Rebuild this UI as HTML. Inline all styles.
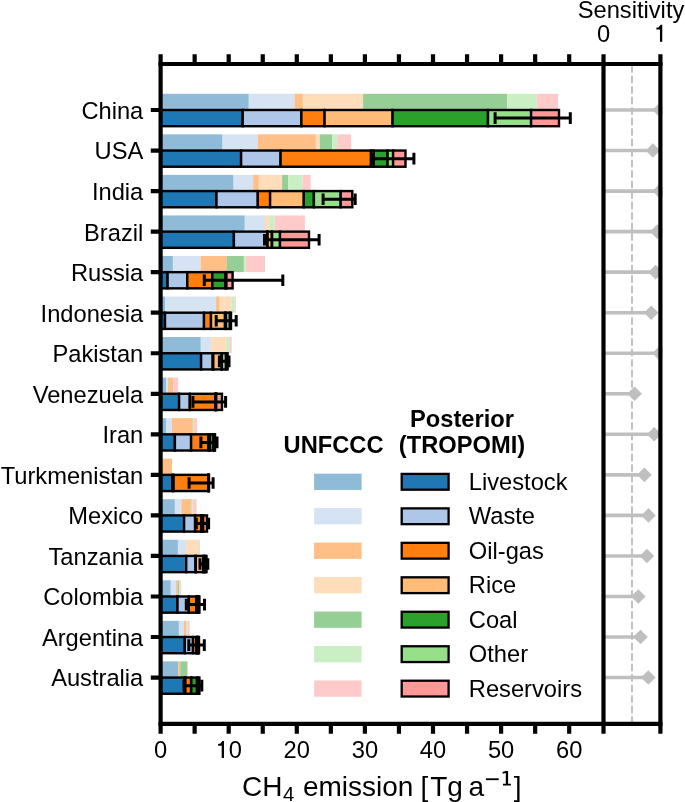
<!DOCTYPE html>
<html><head><meta charset="utf-8"><style>html,body{margin:0;padding:0;background:#fff;}svg{display:block;will-change:transform;}</style></head>
<body><svg width="685" height="802" viewBox="0 0 685 802">
<rect width="685" height="802" fill="#fff"/>
<rect x="160.60" y="93.80" width="88.20" height="16.20" fill="#8fbbd9"/>
<rect x="248.80" y="93.80" width="45.70" height="16.20" fill="#d6e3f3"/>
<rect x="294.50" y="93.80" width="8.40" height="16.20" fill="#ffbf86"/>
<rect x="302.90" y="93.80" width="60.20" height="16.20" fill="#ffddbb"/>
<rect x="363.10" y="93.80" width="144.10" height="16.20" fill="#95cf95"/>
<rect x="507.20" y="93.80" width="29.60" height="16.20" fill="#cbefc4"/>
<rect x="536.80" y="93.80" width="21.30" height="16.20" fill="#ffcbca"/>
<rect x="160.60" y="134.34" width="62.00" height="16.20" fill="#8fbbd9"/>
<rect x="222.60" y="134.34" width="35.00" height="16.20" fill="#d6e3f3"/>
<rect x="257.60" y="134.34" width="58.30" height="16.20" fill="#ffbf86"/>
<rect x="315.90" y="134.34" width="3.80" height="16.20" fill="#ffddbb"/>
<rect x="319.70" y="134.34" width="12.60" height="16.20" fill="#95cf95"/>
<rect x="332.30" y="134.34" width="4.80" height="16.20" fill="#cbefc4"/>
<rect x="337.10" y="134.34" width="14.00" height="16.20" fill="#ffcbca"/>
<rect x="160.60" y="174.88" width="73.00" height="16.20" fill="#8fbbd9"/>
<rect x="233.60" y="174.88" width="19.60" height="16.20" fill="#d6e3f3"/>
<rect x="253.20" y="174.88" width="5.60" height="16.20" fill="#ffbf86"/>
<rect x="258.80" y="174.88" width="23.30" height="16.20" fill="#ffddbb"/>
<rect x="282.10" y="174.88" width="6.00" height="16.20" fill="#95cf95"/>
<rect x="288.10" y="174.88" width="14.40" height="16.20" fill="#cbefc4"/>
<rect x="302.50" y="174.88" width="8.20" height="16.20" fill="#ffcbca"/>
<rect x="160.60" y="215.42" width="84.20" height="16.20" fill="#8fbbd9"/>
<rect x="244.80" y="215.42" width="20.10" height="16.20" fill="#d6e3f3"/>
<rect x="264.90" y="215.42" width="0.70" height="16.20" fill="#ffbf86"/>
<rect x="265.60" y="215.42" width="3.40" height="16.20" fill="#ffddbb"/>
<rect x="269.00" y="215.42" width="0.30" height="16.20" fill="#95cf95"/>
<rect x="269.30" y="215.42" width="5.40" height="16.20" fill="#cbefc4"/>
<rect x="274.70" y="215.42" width="30.20" height="16.20" fill="#ffcbca"/>
<rect x="160.60" y="255.96" width="12.30" height="16.20" fill="#8fbbd9"/>
<rect x="172.90" y="255.96" width="27.70" height="16.20" fill="#d6e3f3"/>
<rect x="200.60" y="255.96" width="26.30" height="16.20" fill="#ffbf86"/>
<rect x="226.90" y="255.96" width="17.00" height="16.20" fill="#95cf95"/>
<rect x="243.90" y="255.96" width="2.00" height="16.20" fill="#cbefc4"/>
<rect x="245.90" y="255.96" width="19.10" height="16.20" fill="#ffcbca"/>
<rect x="160.60" y="296.50" width="4.40" height="16.20" fill="#8fbbd9"/>
<rect x="165.00" y="296.50" width="51.10" height="16.20" fill="#d6e3f3"/>
<rect x="216.10" y="296.50" width="3.60" height="16.20" fill="#ffbf86"/>
<rect x="219.70" y="296.50" width="11.50" height="16.20" fill="#ffddbb"/>
<rect x="231.20" y="296.50" width="3.70" height="16.20" fill="#cbefc4"/>
<rect x="234.90" y="296.50" width="0.90" height="16.20" fill="#ffcbca"/>
<rect x="160.60" y="337.04" width="40.20" height="16.20" fill="#8fbbd9"/>
<rect x="200.80" y="337.04" width="10.10" height="16.20" fill="#d6e3f3"/>
<rect x="210.90" y="337.04" width="15.20" height="16.20" fill="#ffddbb"/>
<rect x="226.10" y="337.04" width="3.80" height="16.20" fill="#cbefc4"/>
<rect x="229.90" y="337.04" width="1.80" height="16.20" fill="#ffcbca"/>
<rect x="160.60" y="377.58" width="5.50" height="16.20" fill="#8fbbd9"/>
<rect x="166.10" y="377.58" width="1.90" height="16.20" fill="#d6e3f3"/>
<rect x="168.00" y="377.58" width="5.30" height="16.20" fill="#ffbf86"/>
<rect x="173.30" y="377.58" width="4.80" height="16.20" fill="#ffcbca"/>
<rect x="160.60" y="418.12" width="5.40" height="16.20" fill="#8fbbd9"/>
<rect x="166.00" y="418.12" width="6.00" height="16.20" fill="#d6e3f3"/>
<rect x="172.00" y="418.12" width="20.90" height="16.20" fill="#ffbf86"/>
<rect x="192.90" y="418.12" width="1.10" height="16.20" fill="#cbefc4"/>
<rect x="194.00" y="418.12" width="3.00" height="16.20" fill="#ffcbca"/>
<rect x="160.60" y="458.66" width="11.40" height="16.20" fill="#ffbf86"/>
<rect x="160.60" y="499.20" width="14.30" height="16.20" fill="#8fbbd9"/>
<rect x="174.90" y="499.20" width="6.50" height="16.20" fill="#d6e3f3"/>
<rect x="181.40" y="499.20" width="9.50" height="16.20" fill="#ffbf86"/>
<rect x="190.90" y="499.20" width="0.70" height="16.20" fill="#95cf95"/>
<rect x="191.60" y="499.20" width="1.20" height="16.20" fill="#cbefc4"/>
<rect x="192.80" y="499.20" width="3.80" height="16.20" fill="#ffcbca"/>
<rect x="160.60" y="539.74" width="17.30" height="16.20" fill="#8fbbd9"/>
<rect x="177.90" y="539.74" width="8.10" height="16.20" fill="#d6e3f3"/>
<rect x="186.00" y="539.74" width="12.10" height="16.20" fill="#ffddbb"/>
<rect x="198.10" y="539.74" width="1.00" height="16.20" fill="#cbefc4"/>
<rect x="199.10" y="539.74" width="0.80" height="16.20" fill="#ffcbca"/>
<rect x="160.60" y="580.28" width="10.20" height="16.20" fill="#8fbbd9"/>
<rect x="170.80" y="580.28" width="5.20" height="16.20" fill="#d6e3f3"/>
<rect x="176.00" y="580.28" width="1.60" height="16.20" fill="#ffbf86"/>
<rect x="177.60" y="580.28" width="1.40" height="16.20" fill="#95cf95"/>
<rect x="179.00" y="580.28" width="0.70" height="16.20" fill="#cbefc4"/>
<rect x="179.70" y="580.28" width="1.20" height="16.20" fill="#ffcbca"/>
<rect x="160.60" y="620.82" width="18.30" height="16.20" fill="#8fbbd9"/>
<rect x="178.90" y="620.82" width="5.10" height="16.20" fill="#d6e3f3"/>
<rect x="184.00" y="620.82" width="2.10" height="16.20" fill="#ffbf86"/>
<rect x="186.10" y="620.82" width="1.10" height="16.20" fill="#cbefc4"/>
<rect x="187.20" y="620.82" width="2.40" height="16.20" fill="#ffcbca"/>
<rect x="160.60" y="661.36" width="17.60" height="16.20" fill="#8fbbd9"/>
<rect x="178.20" y="661.36" width="2.00" height="16.20" fill="#ffbf86"/>
<rect x="180.20" y="661.36" width="7.20" height="16.20" fill="#95cf95"/>
<rect x="187.40" y="661.36" width="0.40" height="16.20" fill="#ffcbca"/>
<rect x="160.60" y="110.00" width="82.10" height="16.20" fill="#1f77b4" stroke="#000" stroke-width="2.4"/>
<rect x="242.70" y="110.00" width="58.70" height="16.20" fill="#aec7e8" stroke="#000" stroke-width="2.4"/>
<rect x="301.40" y="110.00" width="23.20" height="16.20" fill="#ff7f0e" stroke="#000" stroke-width="2.4"/>
<rect x="324.60" y="110.00" width="68.00" height="16.20" fill="#ffbb78" stroke="#000" stroke-width="2.4"/>
<rect x="392.60" y="110.00" width="95.40" height="16.20" fill="#2ca02c" stroke="#000" stroke-width="2.4"/>
<rect x="488.00" y="110.00" width="43.10" height="16.20" fill="#98df8a" stroke="#000" stroke-width="2.4"/>
<rect x="531.10" y="110.00" width="27.90" height="16.20" fill="#ff9896" stroke="#000" stroke-width="2.4"/>
<rect x="160.60" y="150.54" width="80.50" height="16.20" fill="#1f77b4" stroke="#000" stroke-width="2.4"/>
<rect x="241.10" y="150.54" width="39.50" height="16.20" fill="#aec7e8" stroke="#000" stroke-width="2.4"/>
<rect x="280.60" y="150.54" width="90.40" height="16.20" fill="#ff7f0e" stroke="#000" stroke-width="2.4"/>
<rect x="371.00" y="150.54" width="2.80" height="16.20" fill="#ffbb78" stroke="#000" stroke-width="2.4"/>
<rect x="373.80" y="150.54" width="13.80" height="16.20" fill="#2ca02c" stroke="#000" stroke-width="2.4"/>
<rect x="387.60" y="150.54" width="5.50" height="16.20" fill="#98df8a" stroke="#000" stroke-width="2.4"/>
<rect x="393.10" y="150.54" width="12.40" height="16.20" fill="#ff9896" stroke="#000" stroke-width="2.4"/>
<rect x="160.60" y="191.08" width="55.90" height="16.20" fill="#1f77b4" stroke="#000" stroke-width="2.4"/>
<rect x="216.50" y="191.08" width="41.30" height="16.20" fill="#aec7e8" stroke="#000" stroke-width="2.4"/>
<rect x="257.80" y="191.08" width="12.30" height="16.20" fill="#ff7f0e" stroke="#000" stroke-width="2.4"/>
<rect x="270.10" y="191.08" width="33.70" height="16.20" fill="#ffbb78" stroke="#000" stroke-width="2.4"/>
<rect x="303.80" y="191.08" width="10.10" height="16.20" fill="#2ca02c" stroke="#000" stroke-width="2.4"/>
<rect x="313.90" y="191.08" width="26.80" height="16.20" fill="#98df8a" stroke="#000" stroke-width="2.4"/>
<rect x="340.70" y="191.08" width="11.60" height="16.20" fill="#ff9896" stroke="#000" stroke-width="2.4"/>
<rect x="160.60" y="231.62" width="73.30" height="16.20" fill="#1f77b4" stroke="#000" stroke-width="2.4"/>
<rect x="233.90" y="231.62" width="33.30" height="16.20" fill="#aec7e8" stroke="#000" stroke-width="2.4"/>
<rect x="267.20" y="231.62" width="0.40" height="16.20" fill="#ff7f0e" stroke="#000" stroke-width="2.4"/>
<rect x="267.60" y="231.62" width="4.30" height="16.20" fill="#ffbb78" stroke="#000" stroke-width="2.4"/>
<rect x="271.90" y="231.62" width="0.20" height="16.20" fill="#2ca02c" stroke="#000" stroke-width="2.4"/>
<rect x="272.10" y="231.62" width="7.90" height="16.20" fill="#98df8a" stroke="#000" stroke-width="2.4"/>
<rect x="280.00" y="231.62" width="29.00" height="16.20" fill="#ff9896" stroke="#000" stroke-width="2.4"/>
<rect x="160.60" y="272.16" width="7.00" height="16.20" fill="#1f77b4" stroke="#000" stroke-width="2.4"/>
<rect x="167.60" y="272.16" width="19.70" height="16.20" fill="#aec7e8" stroke="#000" stroke-width="2.4"/>
<rect x="187.30" y="272.16" width="25.10" height="16.20" fill="#ff7f0e" stroke="#000" stroke-width="2.4"/>
<rect x="212.40" y="272.16" width="0.01" height="16.20" fill="#ffbb78" stroke="#000" stroke-width="2.4"/>
<rect x="212.40" y="272.16" width="13.00" height="16.20" fill="#2ca02c" stroke="#000" stroke-width="2.4"/>
<rect x="225.40" y="272.16" width="1.00" height="16.20" fill="#98df8a" stroke="#000" stroke-width="2.4"/>
<rect x="226.40" y="272.16" width="6.20" height="16.20" fill="#ff9896" stroke="#000" stroke-width="2.4"/>
<rect x="160.60" y="312.70" width="4.40" height="16.20" fill="#1f77b4" stroke="#000" stroke-width="2.4"/>
<rect x="165.00" y="312.70" width="39.00" height="16.20" fill="#aec7e8" stroke="#000" stroke-width="2.4"/>
<rect x="204.00" y="312.70" width="7.00" height="16.20" fill="#ff7f0e" stroke="#000" stroke-width="2.4"/>
<rect x="211.00" y="312.70" width="14.00" height="16.20" fill="#ffbb78" stroke="#000" stroke-width="2.4"/>
<rect x="225.00" y="312.70" width="1.00" height="16.20" fill="#2ca02c" stroke="#000" stroke-width="2.4"/>
<rect x="226.00" y="312.70" width="3.90" height="16.20" fill="#98df8a" stroke="#000" stroke-width="2.4"/>
<rect x="229.90" y="312.70" width="1.10" height="16.20" fill="#ff9896" stroke="#000" stroke-width="2.4"/>
<rect x="160.60" y="353.24" width="40.50" height="16.20" fill="#1f77b4" stroke="#000" stroke-width="2.4"/>
<rect x="201.10" y="353.24" width="11.60" height="16.20" fill="#aec7e8" stroke="#000" stroke-width="2.4"/>
<rect x="212.70" y="353.24" width="0.60" height="16.20" fill="#ff7f0e" stroke="#000" stroke-width="2.4"/>
<rect x="213.30" y="353.24" width="8.40" height="16.20" fill="#ffbb78" stroke="#000" stroke-width="2.4"/>
<rect x="221.70" y="353.24" width="0.20" height="16.20" fill="#2ca02c" stroke="#000" stroke-width="2.4"/>
<rect x="221.90" y="353.24" width="4.10" height="16.20" fill="#98df8a" stroke="#000" stroke-width="2.4"/>
<rect x="226.00" y="353.24" width="1.60" height="16.20" fill="#ff9896" stroke="#000" stroke-width="2.4"/>
<rect x="160.60" y="393.78" width="18.50" height="16.20" fill="#1f77b4" stroke="#000" stroke-width="2.4"/>
<rect x="179.10" y="393.78" width="10.70" height="16.20" fill="#aec7e8" stroke="#000" stroke-width="2.4"/>
<rect x="189.80" y="393.78" width="25.60" height="16.20" fill="#ff7f0e" stroke="#000" stroke-width="2.4"/>
<rect x="215.40" y="393.78" width="0.40" height="16.20" fill="#ffbb78" stroke="#000" stroke-width="2.4"/>
<rect x="215.80" y="393.78" width="0.20" height="16.20" fill="#2ca02c" stroke="#000" stroke-width="2.4"/>
<rect x="216.00" y="393.78" width="0.20" height="16.20" fill="#98df8a" stroke="#000" stroke-width="2.4"/>
<rect x="216.20" y="393.78" width="5.80" height="16.20" fill="#ff9896" stroke="#000" stroke-width="2.4"/>
<rect x="160.60" y="434.32" width="14.30" height="16.20" fill="#1f77b4" stroke="#000" stroke-width="2.4"/>
<rect x="174.90" y="434.32" width="16.20" height="16.20" fill="#aec7e8" stroke="#000" stroke-width="2.4"/>
<rect x="191.10" y="434.32" width="17.40" height="16.20" fill="#ff7f0e" stroke="#000" stroke-width="2.4"/>
<rect x="208.50" y="434.32" width="1.30" height="16.20" fill="#ffbb78" stroke="#000" stroke-width="2.4"/>
<rect x="209.80" y="434.32" width="3.70" height="16.20" fill="#2ca02c" stroke="#000" stroke-width="2.4"/>
<rect x="213.50" y="434.32" width="1.00" height="16.20" fill="#98df8a" stroke="#000" stroke-width="2.4"/>
<rect x="214.50" y="434.32" width="0.50" height="16.20" fill="#ff9896" stroke="#000" stroke-width="2.4"/>
<rect x="160.60" y="474.86" width="11.80" height="16.20" fill="#1f77b4" stroke="#000" stroke-width="2.4"/>
<rect x="172.40" y="474.86" width="1.20" height="16.20" fill="#aec7e8" stroke="#000" stroke-width="2.4"/>
<rect x="173.60" y="474.86" width="34.60" height="16.20" fill="#ff7f0e" stroke="#000" stroke-width="2.4"/>
<rect x="208.20" y="474.86" width="0.20" height="16.20" fill="#ffbb78" stroke="#000" stroke-width="2.4"/>
<rect x="208.40" y="474.86" width="0.20" height="16.20" fill="#2ca02c" stroke="#000" stroke-width="2.4"/>
<rect x="208.60" y="474.86" width="0.20" height="16.20" fill="#98df8a" stroke="#000" stroke-width="2.4"/>
<rect x="208.80" y="474.86" width="0.20" height="16.20" fill="#ff9896" stroke="#000" stroke-width="2.4"/>
<rect x="160.60" y="515.40" width="23.50" height="16.20" fill="#1f77b4" stroke="#000" stroke-width="2.4"/>
<rect x="184.10" y="515.40" width="11.00" height="16.20" fill="#aec7e8" stroke="#000" stroke-width="2.4"/>
<rect x="195.10" y="515.40" width="6.10" height="16.20" fill="#ff7f0e" stroke="#000" stroke-width="2.4"/>
<rect x="201.20" y="515.40" width="0.60" height="16.20" fill="#ffbb78" stroke="#000" stroke-width="2.4"/>
<rect x="201.80" y="515.40" width="0.60" height="16.20" fill="#2ca02c" stroke="#000" stroke-width="2.4"/>
<rect x="202.40" y="515.40" width="0.80" height="16.20" fill="#98df8a" stroke="#000" stroke-width="2.4"/>
<rect x="203.20" y="515.40" width="3.80" height="16.20" fill="#ff9896" stroke="#000" stroke-width="2.4"/>
<rect x="160.60" y="555.94" width="25.60" height="16.20" fill="#1f77b4" stroke="#000" stroke-width="2.4"/>
<rect x="186.20" y="555.94" width="9.40" height="16.20" fill="#aec7e8" stroke="#000" stroke-width="2.4"/>
<rect x="195.60" y="555.94" width="0.20" height="16.20" fill="#ff7f0e" stroke="#000" stroke-width="2.4"/>
<rect x="195.80" y="555.94" width="7.40" height="16.20" fill="#ffbb78" stroke="#000" stroke-width="2.4"/>
<rect x="203.20" y="555.94" width="0.80" height="16.20" fill="#2ca02c" stroke="#000" stroke-width="2.4"/>
<rect x="204.00" y="555.94" width="1.20" height="16.20" fill="#98df8a" stroke="#000" stroke-width="2.4"/>
<rect x="205.20" y="555.94" width="1.30" height="16.20" fill="#ff9896" stroke="#000" stroke-width="2.4"/>
<rect x="160.60" y="596.48" width="16.90" height="16.20" fill="#1f77b4" stroke="#000" stroke-width="2.4"/>
<rect x="177.50" y="596.48" width="11.30" height="16.20" fill="#aec7e8" stroke="#000" stroke-width="2.4"/>
<rect x="188.80" y="596.48" width="7.40" height="16.20" fill="#ff7f0e" stroke="#000" stroke-width="2.4"/>
<rect x="196.20" y="596.48" width="0.60" height="16.20" fill="#ffbb78" stroke="#000" stroke-width="2.4"/>
<rect x="196.80" y="596.48" width="1.00" height="16.20" fill="#2ca02c" stroke="#000" stroke-width="2.4"/>
<rect x="197.80" y="596.48" width="0.80" height="16.20" fill="#98df8a" stroke="#000" stroke-width="2.4"/>
<rect x="198.60" y="596.48" width="0.80" height="16.20" fill="#ff9896" stroke="#000" stroke-width="2.4"/>
<rect x="160.60" y="637.02" width="24.20" height="16.20" fill="#1f77b4" stroke="#000" stroke-width="2.4"/>
<rect x="184.80" y="637.02" width="8.20" height="16.20" fill="#aec7e8" stroke="#000" stroke-width="2.4"/>
<rect x="193.00" y="637.02" width="3.40" height="16.20" fill="#ff7f0e" stroke="#000" stroke-width="2.4"/>
<rect x="196.40" y="637.02" width="0.60" height="16.20" fill="#ffbb78" stroke="#000" stroke-width="2.4"/>
<rect x="197.00" y="637.02" width="0.60" height="16.20" fill="#2ca02c" stroke="#000" stroke-width="2.4"/>
<rect x="197.60" y="637.02" width="0.70" height="16.20" fill="#98df8a" stroke="#000" stroke-width="2.4"/>
<rect x="198.30" y="637.02" width="0.70" height="16.20" fill="#ff9896" stroke="#000" stroke-width="2.4"/>
<rect x="160.60" y="677.56" width="23.80" height="16.20" fill="#1f77b4" stroke="#000" stroke-width="2.4"/>
<rect x="184.40" y="677.56" width="1.00" height="16.20" fill="#aec7e8" stroke="#000" stroke-width="2.4"/>
<rect x="185.40" y="677.56" width="5.70" height="16.20" fill="#ff7f0e" stroke="#000" stroke-width="2.4"/>
<rect x="191.10" y="677.56" width="0.20" height="16.20" fill="#ffbb78" stroke="#000" stroke-width="2.4"/>
<rect x="191.30" y="677.56" width="5.70" height="16.20" fill="#2ca02c" stroke="#000" stroke-width="2.4"/>
<rect x="197.00" y="677.56" width="1.20" height="16.20" fill="#98df8a" stroke="#000" stroke-width="2.4"/>
<rect x="198.20" y="677.56" width="1.20" height="16.20" fill="#ff9896" stroke="#000" stroke-width="2.4"/>
<path d="M495.10 118.10H570.30M495.10 112.30V123.90M570.30 112.30V123.90" stroke="#000" stroke-width="3.0" fill="none"/>
<path d="M372.40 158.64H413.90M372.40 152.84V164.44M413.90 152.84V164.44" stroke="#000" stroke-width="3.0" fill="none"/>
<path d="M323.10 199.18H355.20M323.10 193.38V204.98M355.20 193.38V204.98" stroke="#000" stroke-width="3.0" fill="none"/>
<path d="M264.50 239.72H319.10M264.50 233.92V245.52M319.10 233.92V245.52" stroke="#000" stroke-width="3.0" fill="none"/>
<path d="M204.30 280.26H282.80M204.30 274.46V286.06M282.80 274.46V286.06" stroke="#000" stroke-width="3.0" fill="none"/>
<path d="M216.20 320.80H236.20M216.20 315.00V326.60M236.20 315.00V326.60" stroke="#000" stroke-width="3.0" fill="none"/>
<path d="M219.40 361.34H229.00M219.40 355.54V367.14M229.00 355.54V367.14" stroke="#000" stroke-width="3.0" fill="none"/>
<path d="M192.90 401.88H225.60M192.90 396.08V407.68M225.60 396.08V407.68" stroke="#000" stroke-width="3.0" fill="none"/>
<path d="M200.90 442.42H217.00M200.90 436.62V448.22M217.00 436.62V448.22" stroke="#000" stroke-width="3.0" fill="none"/>
<path d="M189.10 482.96H213.10M189.10 477.16V488.76M213.10 477.16V488.76" stroke="#000" stroke-width="3.0" fill="none"/>
<path d="M196.30 523.50H208.60M196.30 517.70V529.30M208.60 517.70V529.30" stroke="#000" stroke-width="3.0" fill="none"/>
<path d="M200.00 564.04H207.80M200.00 558.24V569.84M207.80 558.24V569.84" stroke="#000" stroke-width="3.0" fill="none"/>
<path d="M186.30 604.58H204.50M186.30 598.78V610.38M204.50 598.78V610.38" stroke="#000" stroke-width="3.0" fill="none"/>
<path d="M188.80 645.12H204.30M188.80 639.32V650.92M204.30 639.32V650.92" stroke="#000" stroke-width="3.0" fill="none"/>
<path d="M184.00 685.66H201.80M184.00 679.86V691.46M201.80 679.86V691.46" stroke="#000" stroke-width="3.0" fill="none"/>
<line x1="632.0" y1="723.9" x2="632.0" y2="64.0" stroke="#bfbfbf" stroke-width="1.9" stroke-dasharray="7.5 3.0" stroke-dashoffset="10.3"/>
<line x1="603.5" y1="110.00" x2="659.70" y2="110.00" stroke="#bfbfbf" stroke-width="3.6"/>
<path d="M652.40 110.00L659.70 102.70L667.00 110.00L659.70 117.30Z" fill="#bfbfbf"/>
<line x1="603.5" y1="150.54" x2="652.90" y2="150.54" stroke="#bfbfbf" stroke-width="3.6"/>
<path d="M645.60 150.54L652.90 143.24L660.20 150.54L652.90 157.84Z" fill="#bfbfbf"/>
<line x1="603.5" y1="191.08" x2="659.70" y2="191.08" stroke="#bfbfbf" stroke-width="3.6"/>
<path d="M652.40 191.08L659.70 183.78L667.00 191.08L659.70 198.38Z" fill="#bfbfbf"/>
<line x1="603.5" y1="231.62" x2="657.30" y2="231.62" stroke="#bfbfbf" stroke-width="3.6"/>
<path d="M650.00 231.62L657.30 224.32L664.60 231.62L657.30 238.92Z" fill="#bfbfbf"/>
<line x1="603.5" y1="272.16" x2="655.60" y2="272.16" stroke="#bfbfbf" stroke-width="3.6"/>
<path d="M648.30 272.16L655.60 264.86L662.90 272.16L655.60 279.46Z" fill="#bfbfbf"/>
<line x1="603.5" y1="312.70" x2="651.20" y2="312.70" stroke="#bfbfbf" stroke-width="3.6"/>
<path d="M643.90 312.70L651.20 305.40L658.50 312.70L651.20 320.00Z" fill="#bfbfbf"/>
<line x1="603.5" y1="353.24" x2="659.60" y2="353.24" stroke="#bfbfbf" stroke-width="3.6"/>
<path d="M652.30 353.24L659.60 345.94L666.90 353.24L659.60 360.54Z" fill="#bfbfbf"/>
<line x1="603.5" y1="393.78" x2="634.60" y2="393.78" stroke="#bfbfbf" stroke-width="3.6"/>
<path d="M627.30 393.78L634.60 386.48L641.90 393.78L634.60 401.08Z" fill="#bfbfbf"/>
<line x1="603.5" y1="434.32" x2="654.20" y2="434.32" stroke="#bfbfbf" stroke-width="3.6"/>
<path d="M646.90 434.32L654.20 427.02L661.50 434.32L654.20 441.62Z" fill="#bfbfbf"/>
<line x1="603.5" y1="474.86" x2="644.40" y2="474.86" stroke="#bfbfbf" stroke-width="3.6"/>
<path d="M637.10 474.86L644.40 467.56L651.70 474.86L644.40 482.16Z" fill="#bfbfbf"/>
<line x1="603.5" y1="515.40" x2="648.50" y2="515.40" stroke="#bfbfbf" stroke-width="3.6"/>
<path d="M641.20 515.40L648.50 508.10L655.80 515.40L648.50 522.70Z" fill="#bfbfbf"/>
<line x1="603.5" y1="555.94" x2="646.90" y2="555.94" stroke="#bfbfbf" stroke-width="3.6"/>
<path d="M639.60 555.94L646.90 548.64L654.20 555.94L646.90 563.24Z" fill="#bfbfbf"/>
<line x1="603.5" y1="596.48" x2="638.30" y2="596.48" stroke="#bfbfbf" stroke-width="3.6"/>
<path d="M631.00 596.48L638.30 589.18L645.60 596.48L638.30 603.78Z" fill="#bfbfbf"/>
<line x1="603.5" y1="637.02" x2="640.50" y2="637.02" stroke="#bfbfbf" stroke-width="3.6"/>
<path d="M633.20 637.02L640.50 629.72L647.80 637.02L640.50 644.32Z" fill="#bfbfbf"/>
<line x1="603.5" y1="677.56" x2="648.30" y2="677.56" stroke="#bfbfbf" stroke-width="3.6"/>
<path d="M641.00 677.56L648.30 670.26L655.60 677.56L648.30 684.86Z" fill="#bfbfbf"/>
<rect x="662.50" y="64.0" width="30" height="659.9" fill="#fff"/>
<path d="M160.6 64.0V723.9M603.5 64.0V723.9M660.4 64.0V723.9" stroke="#000" stroke-width="4.2" fill="none"/>
<path d="M158.5 64.0H662.5M158.5 723.9H662.5" stroke="#000" stroke-width="4.2" fill="none"/>
<path d="M160.60 54.20V64.00M160.60 723.90V733.70M194.65 54.20V64.00M194.65 723.90V733.70M228.70 54.20V64.00M228.70 723.90V733.70M262.75 54.20V64.00M262.75 723.90V733.70M296.80 54.20V64.00M296.80 723.90V733.70M330.85 54.20V64.00M330.85 723.90V733.70M364.90 54.20V64.00M364.90 723.90V733.70M398.95 54.20V64.00M398.95 723.90V733.70M433.00 54.20V64.00M433.00 723.90V733.70M467.05 54.20V64.00M467.05 723.90V733.70M501.10 54.20V64.00M501.10 723.90V733.70M535.15 54.20V64.00M535.15 723.90V733.70M569.20 54.20V64.00M569.20 723.90V733.70M603.50 54.20V64.00M603.50 723.90V733.70M660.40 54.20V64.00M660.40 723.90V733.70M150.80 110.00H160.60M150.80 150.54H160.60M150.80 191.08H160.60M150.80 231.62H160.60M150.80 272.16H160.60M150.80 312.70H160.60M150.80 353.24H160.60M150.80 393.78H160.60M150.80 434.32H160.60M150.80 474.86H160.60M150.80 515.40H160.60M150.80 555.94H160.60M150.80 596.48H160.60M150.80 637.02H160.60M150.80 677.56H160.60" stroke="#000" stroke-width="4.2" fill="none"/>
<g font-family="Liberation Sans, sans-serif" font-size="23.7" fill="#000">
<text x="143.3" y="118.90" text-anchor="end">China</text>
<text x="143.3" y="159.44" text-anchor="end">USA</text>
<text x="143.3" y="199.98" text-anchor="end">India</text>
<text x="143.3" y="240.52" text-anchor="end">Brazil</text>
<text x="143.3" y="281.06" text-anchor="end">Russia</text>
<text x="143.3" y="321.60" text-anchor="end">Indonesia</text>
<text x="143.3" y="362.14" text-anchor="end">Pakistan</text>
<text x="143.3" y="402.68" text-anchor="end">Venezuela</text>
<text x="143.3" y="443.22" text-anchor="end">Iran</text>
<text x="143.3" y="483.76" text-anchor="end">Turkmenistan</text>
<text x="143.3" y="524.30" text-anchor="end">Mexico</text>
<text x="143.3" y="564.84" text-anchor="end">Tanzania</text>
<text x="143.3" y="605.38" text-anchor="end">Colombia</text>
<text x="143.3" y="645.92" text-anchor="end">Argentina</text>
<text x="143.3" y="686.46" text-anchor="end">Australia</text>
<text x="160.60" y="758.2" text-anchor="middle">0</text>
<path d="M222.28 741.03H223.98V758.00H221.68V745.68H218.11V744.02L220.50 743.42Z" fill="#000"/>
<text x="228.70" y="758.2">0</text>
<text x="296.80" y="758.2" text-anchor="middle">20</text>
<text x="364.90" y="758.2" text-anchor="middle">30</text>
<text x="433.00" y="758.2" text-anchor="middle">40</text>
<text x="501.10" y="758.2" text-anchor="middle">50</text>
<text x="569.20" y="758.2" text-anchor="middle">60</text>
<text x="603.5" y="42" text-anchor="middle">0</text>
<path d="M660.57 24.83H662.27V41.80H659.97V29.48H656.39V27.82L658.79 27.22Z" fill="#000"/>
<text x="631" y="17.7" text-anchor="middle">Sensitivity</text>
<text x="333.6" y="453.4" text-anchor="middle" font-weight="bold">UNFCCC</text>
<text x="462" y="427" text-anchor="middle" font-weight="bold">Posterior</text>
<text x="462" y="452.8" text-anchor="middle" font-weight="bold">(TROPOMI)</text>
<rect x="314.1" y="473.65" width="47.5" height="16.3" fill="#8fbbd9"/>
<rect x="401.7" y="473.90" width="46.9" height="15.8" fill="#1f77b4" stroke="#000" stroke-width="2.3"/>
<text x="468.8" y="490.00">Livestock</text>
<rect x="314.1" y="508.12" width="47.5" height="16.3" fill="#d6e3f3"/>
<rect x="401.7" y="508.37" width="46.9" height="15.8" fill="#aec7e8" stroke="#000" stroke-width="2.3"/>
<text x="468.8" y="524.47">Waste</text>
<rect x="314.1" y="542.59" width="47.5" height="16.3" fill="#ffbf86"/>
<rect x="401.7" y="542.84" width="46.9" height="15.8" fill="#ff7f0e" stroke="#000" stroke-width="2.3"/>
<text x="468.8" y="558.94">Oil-gas</text>
<rect x="314.1" y="577.06" width="47.5" height="16.3" fill="#ffddbb"/>
<rect x="401.7" y="577.31" width="46.9" height="15.8" fill="#ffbb78" stroke="#000" stroke-width="2.3"/>
<text x="468.8" y="593.41">Rice</text>
<rect x="314.1" y="611.53" width="47.5" height="16.3" fill="#95cf95"/>
<rect x="401.7" y="611.78" width="46.9" height="15.8" fill="#2ca02c" stroke="#000" stroke-width="2.3"/>
<text x="468.8" y="627.88">Coal</text>
<rect x="314.1" y="646.00" width="47.5" height="16.3" fill="#cbefc4"/>
<rect x="401.7" y="646.25" width="46.9" height="15.8" fill="#98df8a" stroke="#000" stroke-width="2.3"/>
<text x="468.8" y="662.35">Other</text>
<rect x="314.1" y="680.47" width="47.5" height="16.3" fill="#ffcbca"/>
<rect x="401.7" y="680.72" width="46.9" height="15.8" fill="#ff9896" stroke="#000" stroke-width="2.3"/>
<text x="468.8" y="696.82">Reservoirs</text>
<text x="242.0" y="796" font-size="28">CH</text>
<text x="282.9" y="800.5" font-size="20.3">4</text>
<text x="302.9" y="796" font-size="28">emission</text>
<text x="420.6" y="796" font-size="28">[</text>
<text x="430.2" y="796" font-size="28">Tg</text>
<text x="468.4" y="796" font-size="28">a</text>
<text x="513.8" y="796" font-size="28">]</text>
<rect x="485.9" y="778.3" width="12.8" height="1.85" fill="#000"/>
<path d="M505.6 770.9H508.1V783.7H510.9V785.4H503.0V783.7H505.8V773.0L502.6 773.8V772.1Z" fill="#000"/>
</g>
</svg></body></html>
